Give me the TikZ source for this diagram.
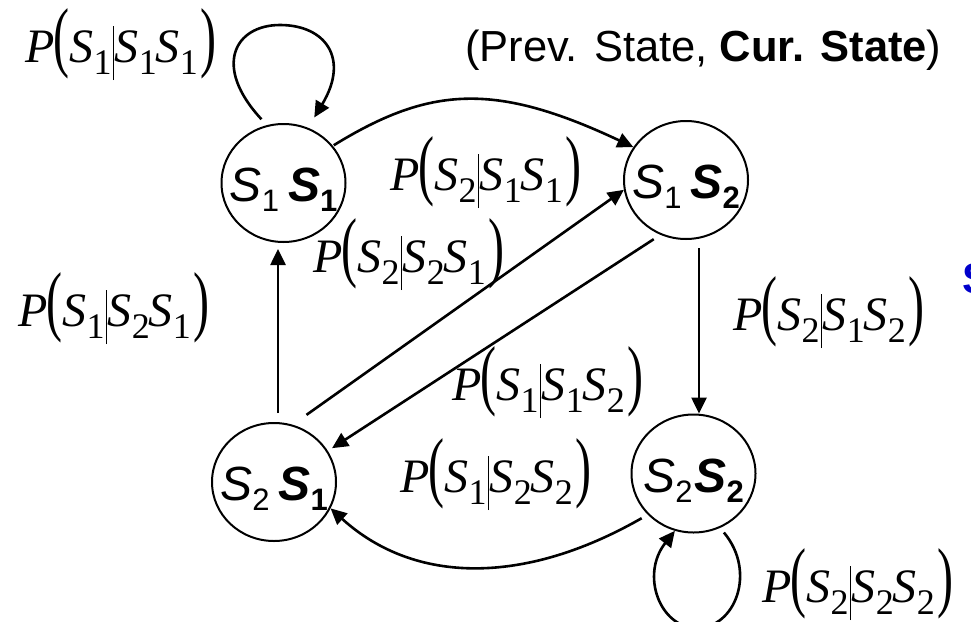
\documentclass[tikz,border=0pt]{standalone}
\usepackage{fontspec}
\usepackage{graphicx}
\usetikzlibrary{shapes.geometric,arrows.meta}
\newfontfamily\asans{Liberation Sans}
\newfontfamily\tser{Liberation Serif}
\definecolor{sblue}{RGB}{0,0,204}
\newcommand{\Sx}[1]{\textit{S}\raisebox{-0.25em}{\fontsize{36}{36}\selectfont #1}}
\newcommand{\Plab}[3]{{\tser\fontsize{48}{48}\selectfont\textit{P}\kern-1pt\scalebox{1}[1.62]{(}\Sx{#1}\kern1pt\rule[-0.38em]{1.4pt}{1.12em}\kern1pt\Sx{#2}\kern-1pt\Sx{#3}\kern3pt\scalebox{1}[1.62]{)}}}
\newcommand{\Ns}[1]{\textit{S}\raisebox{-10pt}[0pt][0pt]{\fontsize{31}{31}\selectfont #1}}
\newcommand{\Nb}[1]{\textbf{\textit{S}}\raisebox{-10pt}[0pt][0pt]{\fontsize{31}{31}\selectfont\bfseries #1}}
\begin{document}
\begin{tikzpicture}[x=1pt,y=-1pt,
  st/.style={ellipse,draw,line width=2pt,minimum width=124pt,minimum height=118pt,inner sep=0pt},
  nt/.style={font=\asans\fontsize{48}{48}\selectfont,inner sep=0pt},
  arr/.style={line width=2.6pt,-{Triangle[length=16pt,width=15pt]}},
  lab/.style={inner sep=0pt,anchor=base west}]
\useasboundingbox (0,0) rectangle (971,621);
% states
\node[st] (A) at (283.5,183) {};
\node[st] (B) at (686,180) {};
\node[st] (C) at (274,482) {};
\node[st] (D) at (693.5,473.5) {};
\node[nt] (At) at ([yshift=-2pt]A.center) {\Ns{1}\kern9pt\Nb{1}};
\node[nt] (Bt) at ([yshift=-2pt]B.center) {\Ns{1}\kern9pt\Nb{2}};
\node[nt] (Ct) at ([yshift=-2pt]C.center) {\Ns{2}\kern9pt\Nb{1}};
\node[nt] (Dt) at ([yshift=-2pt]D.center) {\Ns{2}\kern2pt\Nb{2}};
% transitions
\draw[arr,shorten <=1pt] (A.37.5) .. controls (430,86) and (495,82) .. (B.148);
\draw[arr,shorten <=17pt] (C.72) -- (B.189);
\draw[arr,shorten <=8pt,shorten >=5pt] (B.245) -- (C.30);
\draw[arr] ([xshift=13pt,yshift=-8pt]B.south) -- ([xshift=5.5pt]D.north);
\draw[arr] ([xshift=4pt,yshift=9pt]C.north) -- ([xshift=-5.5pt,yshift=-6pt]A.south);
\draw[arr,shorten <=7pt] (D.222) .. controls (525,585) and (415,585) .. (C.-25);
% self loops
\draw[arr,shorten <=8pt,shorten >=12pt] (A.106) .. controls (212,66) and (235,25) .. (280,25)
   .. controls (325,25) and (350,58) .. (A.66);
\draw[arr,shorten <=6pt] (D.-64) .. controls (757,572) and (735,628) .. (697,628)
   .. controls (660,628) and (640,575) .. (D.252);
% labels
\node[lab] (l1) at (25,62) {\Plab{1}{1}{1}};
\node[lab] (l2) at (390,190) {\Plab{2}{1}{1}};
\node[lab] (l3) at (313,272) {\Plab{2}{2}{1}};
\node[lab] (l4) at (18,326) {\Plab{1}{2}{1}};
\node[lab] (l5) at (452,400) {\Plab{1}{1}{2}};
\node[lab] (l6) at (733,330) {\Plab{2}{1}{2}};
\node[lab] (l7) at (400,492) {\Plab{1}{2}{2}};
\node[lab] (l8) at (762,602) {\Plab{2}{2}{2}};
\node[lab,font=\asans\fontsize{43.5}{43.5}\selectfont] (ttl) at (465,61) {(Prev. State, \textbf{Cur. State})};
\node[lab,font=\asans\bfseries\fontsize{43}{43}\selectfont,text=sblue] (bs) at (962,293) {S};
\end{tikzpicture}
\end{document}
